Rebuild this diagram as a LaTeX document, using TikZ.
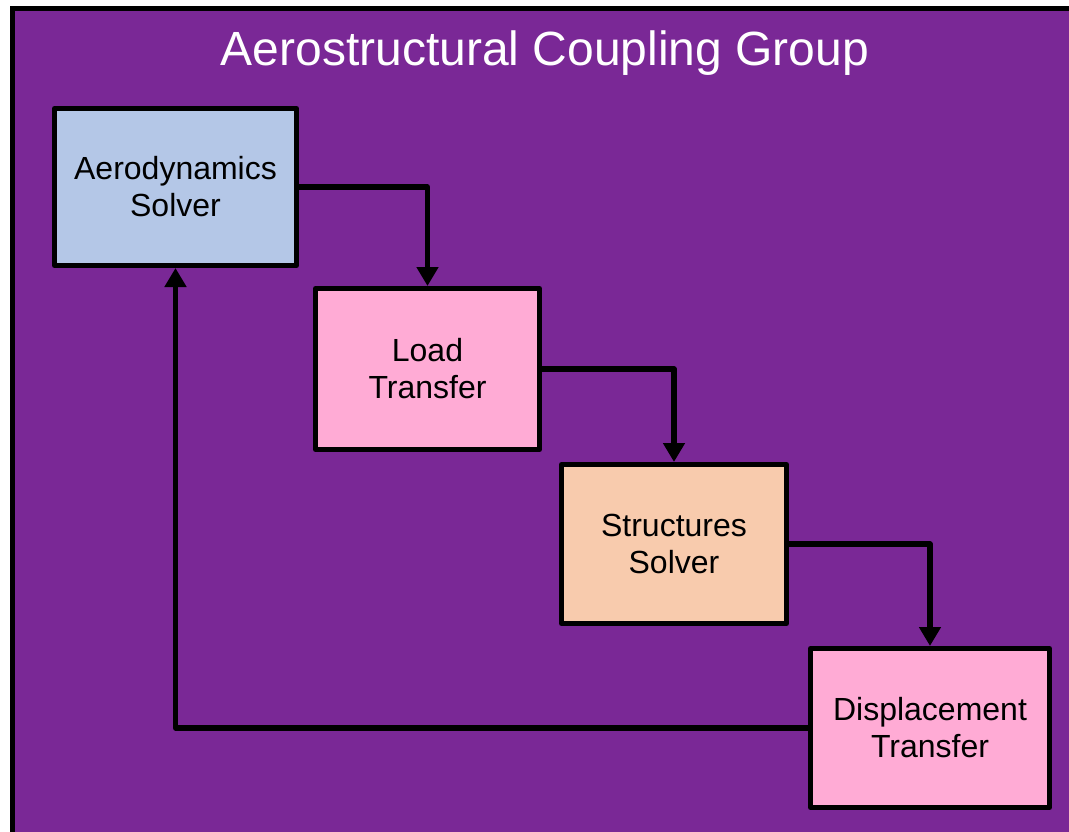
\documentclass[tikz,border=0pt]{standalone}
\usepackage{fontspec}
\setmainfont{Liberation Sans}
\usetikzlibrary{arrows.meta}
\definecolor{bgpurple}{RGB}{122,40,150}
\definecolor{aerofill}{RGB}{180,199,231}
\definecolor{pinkfill}{RGB}{255,171,213}
\definecolor{peachfill}{RGB}{248,203,173}
\tikzset{
  blk/.style={draw=black, line width=5pt, line join=round, rectangle, inner sep=0pt,
    align=center, font=\fontsize{32}{37}\selectfont, text=black},
  flow/.style={draw=black, line width=5.4pt, line join=round, -{Triangle[length=19pt,width=21pt]}}
}
\begin{document}
\begin{tikzpicture}[x=1pt,y=-1pt]
\useasboundingbox (0,0) rectangle (1069,832);
\begin{scope}
\clip (0,0) rectangle (1069,832);
\draw[line width=5pt, fill=bgpurple, draw=black] (12.5,8.5) rectangle (1075,834);
\end{scope}
\node[anchor=base, text=white, font=\fontsize{48}{58}\selectfont] (title) at (545,66) {Aerostructural Coupling Group};
\node[blk, fill=aerofill, minimum width=242pt, minimum height=157pt] (aero) at (175.5,187) {Aerodynamics\\Solver};
\node[blk, fill=pinkfill, minimum width=224pt, minimum height=161pt] (load) at (427.5,369) {Load\\Transfer};
\node[blk, fill=peachfill, minimum width=225pt, minimum height=159pt] (struct) at (674,544) {Structures\\Solver};
\node[blk, fill=pinkfill, minimum width=239pt, minimum height=159pt] (disp) at (930,728) {Displacement\\Transfer};
\draw[flow] (aero.east) -| (load.north);
\draw[flow] (load.east) -| (struct.north);
\draw[flow] (struct.east) -| (disp.north);
\draw[flow] (disp.west) -| (aero.south);
\end{tikzpicture}
\end{document}
